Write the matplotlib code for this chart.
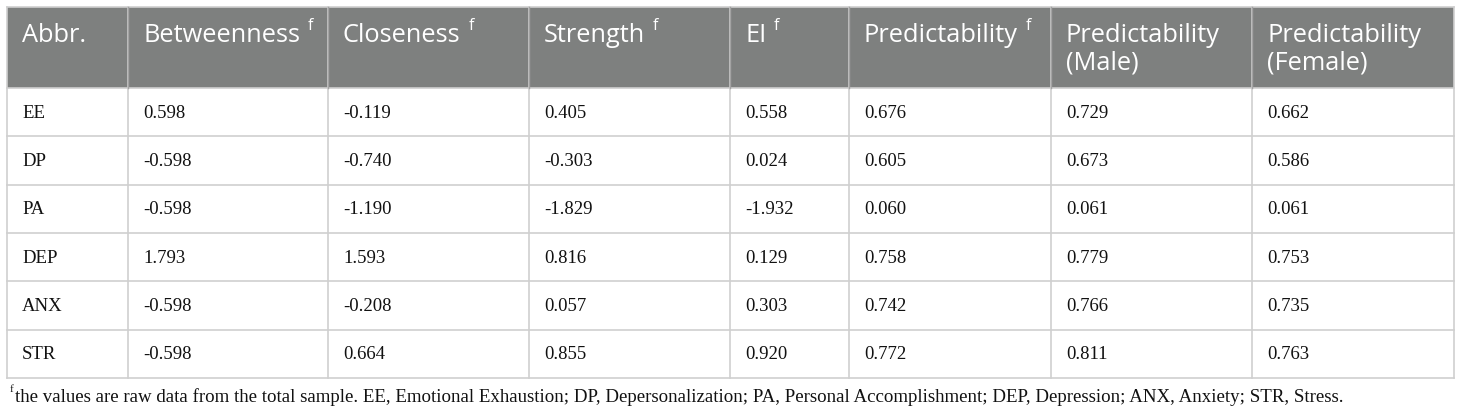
import matplotlib
matplotlib.use("Agg")
import matplotlib.pyplot as plt
from matplotlib.patches import Rectangle

# table content
abbr = ["EE", "DP", "PA", "DEP", "ANX", "STR"]
betweenness = ["0.598", "-0.598", "-0.598", "1.793", "-0.598", "-0.598"]
closeness = ["-0.119", "-0.740", "-1.190", "1.593", "-0.208", "0.664"]
strength = ["0.405", "-0.303", "-1.829", "0.816", "0.057", "0.855"]
ei = ["0.558", "0.024", "-1.932", "0.129", "0.303", "0.920"]
pred = ["0.676", "0.605", "0.060", "0.758", "0.742", "0.772"]
pred_male = ["0.729", "0.673", "0.061", "0.779", "0.766", "0.811"]
pred_female = ["0.662", "0.586", "0.061", "0.753", "0.735", "0.763"]

headers = ["Abbr.", "Betweenness", "Closeness", "Strength", "EI",
           "Predictability", "Predictability\n(Male)", "Predictability\n(Female)"]
header_sup = [False, True, True, True, True, True, False, False]
footnote = ("the values are raw data from the total sample. EE, Emotional Exhaustion; "
            "DP, Depersonalization; PA, Personal Accomplishment; DEP, Depression; "
            "ANX, Anxiety; STR, Stress.")

columns = [abbr, betweenness, closeness, strength, ei, pred, pred_male, pred_female]

W, H = 1460, 416
fig = plt.figure(figsize=(W / 100, H / 100), dpi=100)
ax = fig.add_axes([0, 0, 1, 1])
ax.set_xlim(0, W)
ax.set_ylim(H, 0)
ax.axis("off")

col_x = [7, 128, 328, 529, 730, 849, 1051, 1252, 1454]
top, head_bot, bot = 7, 88, 378
row_h = (bot - head_bot) / len(abbr)
header_bg = "#7e807f"
grid = "#cfcfcf"
pad = 15

ax.add_patch(Rectangle((col_x[0], top), col_x[-1] - col_x[0], head_bot - top,
                       facecolor=header_bg, edgecolor="none"))

# grid lines
for i in range(len(abbr) + 1):
    y = head_bot + i * row_h
    ax.plot([col_x[0], col_x[-1]], [y, y], color=grid, lw=1.2)
ax.plot([col_x[0], col_x[-1]], [top, top], color=grid, lw=1.2)
for x in col_x:
    ax.plot([x, x], [top, bot], color=grid, lw=1.2)
for x in col_x[1:-1]:
    ax.plot([x, x], [top, head_bot], color="#a3a3a3", lw=1.0)

fig.canvas.draw()
renderer = fig.canvas.get_renderer()
inv = ax.transData.inverted()

# header, one text per line
for j, h in enumerate(headers):
    for k, line in enumerate(h.split("\n")):
        t = ax.text(col_x[j] + pad, 42 + 28 * k, line, color="white", fontsize=18.3,
                    family="Open Sans", va="baseline", ha="left")
    if header_sup[j]:
        bb = t.get_window_extent(renderer)
        x1 = inv.transform((bb.x1, bb.y1))[0]
        ax.text(x1 + 8, 30, "f", color="white", fontsize=11.5,
                family="Open Sans", va="baseline", ha="left")

# body
for j, col in enumerate(columns):
    for i, v in enumerate(col):
        y = head_bot + (i + 0.5) * row_h
        ax.text(col_x[j] + pad, y + 1, v, fontsize=13.5, family="Liberation Serif",
                va="center", ha="left", color="#111111")

# footnote
ax.text(10, 390, "f", fontsize=8, family="Liberation Serif", va="center", color="#111111")
ax.text(15, 397, footnote, fontsize=13.6, family="Liberation Serif",
        va="center", ha="left", color="#111111")

fig.savefig("out.png", dpi=100)
